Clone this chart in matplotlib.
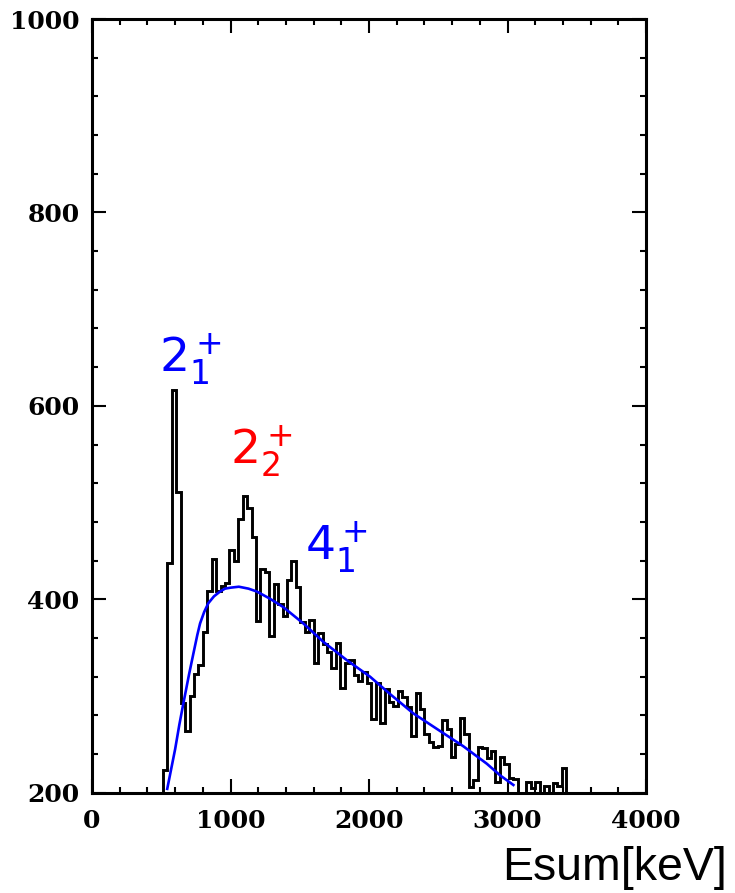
"""
Summed-energy spectrum with fitted background and level labels.
"""

import numpy as np
import matplotlib
matplotlib.use("Agg")
import matplotlib.pyplot as plt
from matplotlib.ticker import MultipleLocator

# histogram: 32 keV bins starting at 512 keV
bin_start = 512
bin_width = 32
counts = [
    223, 438, 616, 511, 293, 264, 300, 323, 332, 366,
    409, 442, 409, 414, 417, 451, 440, 483, 507, 494,
    464, 378, 431, 428, 362, 416, 395, 383, 420, 440,
    413, 377, 366, 379, 334, 365, 354, 345, 329, 355,
    308, 334, 337, 322, 316, 325, 313, 276, 313, 272,
    307, 294, 290, 305, 299, 289, 259, 303, 287, 261,
    252, 247, 248, 275, 266, 237, 250, 277, 261, 206,
    213, 247, 246, 236, 243, 211, 237, 230, 215, 214,
    200, 200, 211, 205, 211, 200, 207, 200, 210, 207,
    226,
]

# fitted smooth background
fit_e = [543, 600, 630, 659, 700, 732, 760, 780, 810, 840, 880, 924, 960,
         1000, 1060, 1130, 1190, 1280, 1380, 1526, 1670, 1840, 2007, 2160,
         2320, 2500, 2681, 2850, 2946, 3042]
fit_y = [204, 245, 270, 292, 322, 344, 363, 375, 387, 396, 403, 408, 411,
         412, 413, 411, 408, 401, 392, 375, 356, 337, 320, 301,
         282, 265, 248, 230, 218, 208]

# level labels: text, energy, counts, colour
labels = [r"$\mathregular{2_1^+}$", r"$\mathregular{2_2^+}$", r"$\mathregular{4_1^+}$"]
label_e = [487, 993, 1535]
label_y = [635, 539, 441]
label_colors = ["#0000ff", "#ff0000", "#0000ff"]

plt.rcParams["mathtext.fontset"] = "custom"
plt.rcParams["mathtext.rm"] = "Liberation Sans"
plt.rcParams["mathtext.it"] = "Liberation Sans"

fig = plt.figure(figsize=(7.35, 8.93), dpi=100)
ax = fig.add_axes([0.1252, 0.1123, 0.7538, 0.8664])

edges = bin_start + bin_width * np.arange(len(counts) + 1)
ax.stairs(counts, edges, baseline=0, color="black", linewidth=2.1)
ax.plot(fit_e, fit_y, color="#0000ff", linewidth=1.9)

for txt, e, y, c in zip(labels, label_e, label_y, label_colors):
    ax.text(e, y, txt, color=c, fontsize=34, ha="left", va="baseline")

ax.set_xlim(0, 4000)
ax.set_ylim(200, 1000)
ax.xaxis.set_major_locator(MultipleLocator(1000))
ax.xaxis.set_minor_locator(MultipleLocator(200))
ax.yaxis.set_major_locator(MultipleLocator(200))
ax.yaxis.set_minor_locator(MultipleLocator(40))

for s in ax.spines.values():
    s.set_linewidth(2.2)
ax.tick_params(which="both", direction="in", top=True, right=True, width=1.5)
ax.tick_params(which="major", length=10)
ax.tick_params(which="minor", length=4.3)
ax.tick_params(axis="x", which="major", pad=12)
ax.tick_params(axis="y", which="major", pad=9)
for lab in ax.get_xticklabels() + ax.get_yticklabels():
    lab.set_fontfamily("DejaVu Serif")
    lab.set_fontweight("bold")
    lab.set_fontsize(18)

fig.text(0.683, 0.0145, "Esum[keV]", fontsize=33.5, family="Liberation Sans",
         ha="left", va="baseline")

fig.savefig("out.png", dpi=100)
